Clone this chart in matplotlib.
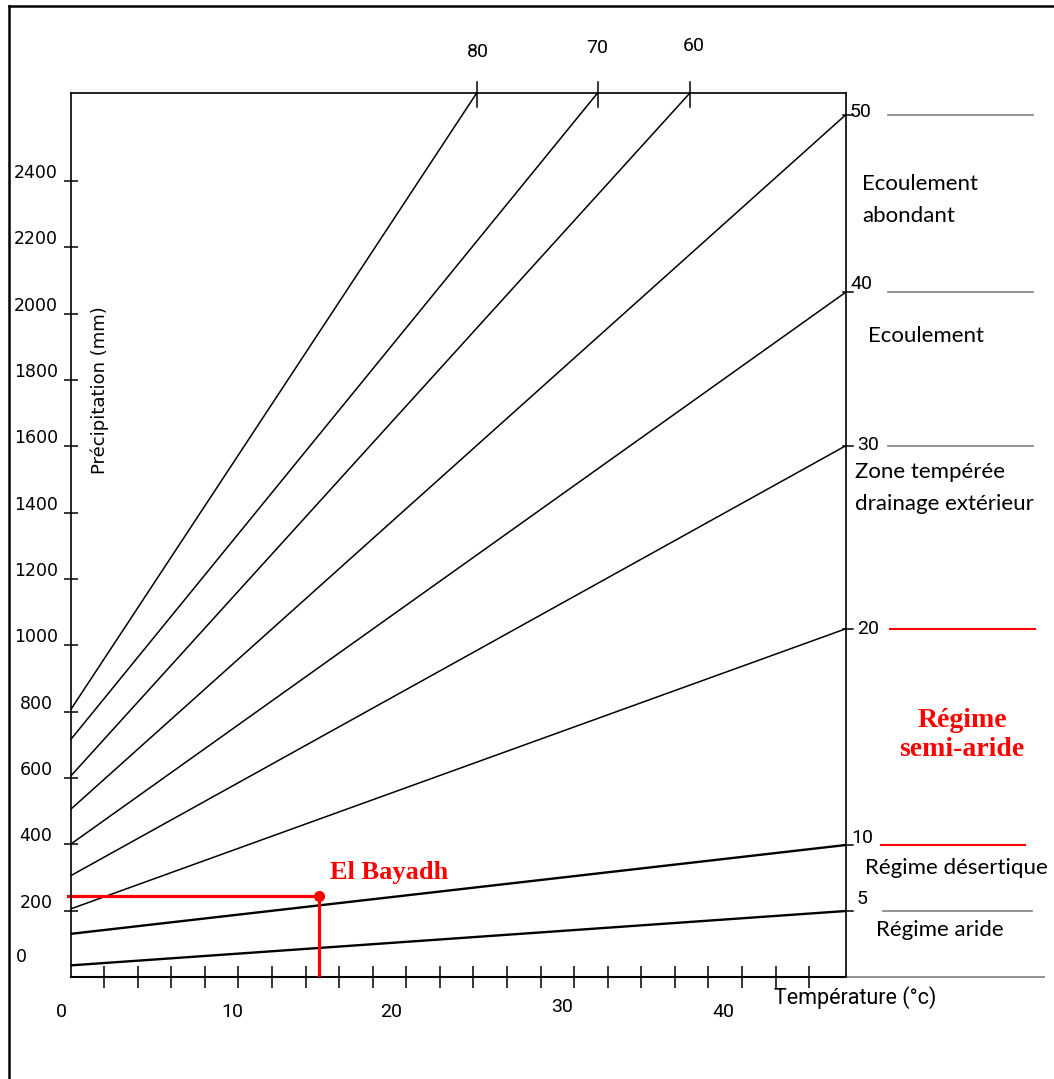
import matplotlib
matplotlib.use("Agg")
import matplotlib.pyplot as plt
from matplotlib.lines import Line2D
from matplotlib.transforms import blended_transform_factory

# -------------------------------
# Data (De Martonne abacus)
# -------------------------------
indices = [80, 70, 60, 50, 40, 30, 20, 10, 5]
# precipitation where each index line starts (T = 0)
p_start = [805, 715, 605, 505, 400, 305, 205, 130, 35]
# where each line leaves the frame (temperature, precipitation)
t_end = [24.2, 31.4, 36.9, 46.2, 46.2, 46.2, 46.2, 46.2, 46.2]
p_end = [2665, 2665, 2665, 2600, 2065, 1602, 1050, 398, 199]

station_name = "El Bayadh"
station_temp = 14.8
station_prec = 244

y_labels = [0, 200, 400, 600, 800, 1000, 1200, 1400, 1600, 1800, 2000, 2200, 2400]
x_labels = [0, 10, 20, 30, 40]

zone_index = [50, 40, 30, 20, 10, 5]
zone_texts = ["Ecoulement\nabondant", "Ecoulement", "Zone tempérée\ndrainage extérieur",
              "Régime\nsemi-aride", "Régime désertique", "Régime aride"]

# -------------------------------
# Layout
# -------------------------------
W, H = 1054, 1079
fig = plt.figure(figsize=(W / 100, H / 100), dpi=100)
ax = fig.add_axes([70.5 / W, 1 - 977 / H, (846 - 70.5) / W, (977 - 93) / H])
ax.set_xlim(0, 46.2)
ax.set_ylim(0, 2665)

for s in ["left", "top", "right"]:
    ax.spines[s].set_linewidth(1.2)
ax.spines["bottom"].set_visible(False)
ax.axhline(0, xmin=0, xmax=1, color="black", lw=1.5, clip_on=False)
ax.axhline(0, xmin=1, xmax=(1044 - 70.5) / (846 - 70.5), color="#888888", lw=1.3, clip_on=False)

ax.set_xticks(list(range(2, 45, 2)))
ax.set_yticks(y_labels[1:])
ax.tick_params(axis="x", direction="inout", length=16, width=1.1, labelbottom=False)
ax.tick_params(axis="y", direction="inout", length=10, width=1.1, labelleft=False)

# y labels (sit a little above their ticks)
for v in y_labels:
    if v == 0:
        off = (21 - 70.5, 20)
    else:
        off = (36 - 70.5, 8)
    ax.annotate(str(v), xy=(0, v), xytext=off, textcoords="offset pixels",
                ha="center", va="center", fontsize=12.5, family="DejaVu Sans",
                annotation_clip=False)

# x labels, hand placed in the original
narrow = ["Roboto", "DejaVu Sans"]
calib = ["Lato", "DejaVu Sans"]
x_off = [(-9.5, -35), (-6, -35), (-15, -35), (-12, -30), (-18, -35)]
for v, off in zip(x_labels, x_off):
    ax.annotate(str(v), xy=(v, 0), xytext=off, textcoords="offset pixels",
                ha="center", va="center", fontsize=14, family=narrow,
                annotation_clip=False)

fig.text(774 / W, 1 - 998 / H, "Température (°c)", ha="left", va="center",
         fontsize=15.5, family=narrow)
fig.text(100 / W, 1 - 390 / H, "Précipitation (mm)", rotation=90, ha="center",
         va="center", fontsize=13, family="DejaVu Sans")

# -------------------------------
# Index lines
# -------------------------------
for i, idx in enumerate(indices):
    lw = 1.7 if idx <= 10 else 1.1
    ax.plot([0, t_end[i]], [p_start[i], p_end[i]], color="black", lw=lw,
            solid_capstyle="butt")
    if p_end[i] >= 2665:
        # tick on the top frame
        ax.plot([t_end[i], t_end[i]], [2665 - 42, 2665 + 33], color="black",
                lw=1.1, clip_on=False)
    else:
        ax.plot([t_end[i] - 0.2, t_end[i] + 0.4], [p_end[i], p_end[i]],
                color="black", lw=1.1, clip_on=False)

top_off = {80: (1, 41), 70: (0, 45), 60: (4, 47)}
for i, idx in enumerate(indices):
    if idx in top_off:
        ax.annotate(str(idx), xy=(t_end[i], 2665), xytext=top_off[idx],
                    textcoords="offset pixels", ha="center", va="center",
                    fontsize=14, family=narrow, annotation_clip=False)

label_off = {50: (4, 3), 40: (4, 8), 30: (11, 1), 20: (11, 0), 10: (5, 7), 5: (11, 12)}
for i, idx in enumerate(indices):
    if idx in label_off:
        ax.annotate(str(idx), xy=(t_end[i], p_end[i]), xytext=label_off[idx],
                    textcoords="offset pixels", ha="left", va="center",
                    fontsize=14, family=narrow, annotation_clip=False)

# -------------------------------
# Zones on the right
# -------------------------------
trans = blended_transform_factory(fig.transFigure, ax.transData)
zone_x = [(888, 1033), (888, 1033), (888, 1033), (890, 1035), (881, 1025), (883, 1032)]
zone_col = ["#808080", "#808080", "#808080", "red", "red", "#808080"]
for idx, (x0, x1), c in zip(zone_index, zone_x, zone_col):
    p = p_end[indices.index(idx)]
    lw = 1.5 if c == "red" else 1.2
    ax.plot([x0 / W, x1 / W], [p, p], color=c, lw=lw, transform=trans, clip_on=False)

zone_pos = [(862, 200), (868, 336), (855, 488), (962, 735), (865, 868), (876, 930)]
for txt, (x, y) in zip(zone_texts, zone_pos):
    if "semi" in txt:
        fig.text(x / W, 1 - y / H, txt, ha="center", va="center", color="red",
                 fontsize=20, fontweight="bold", family="Liberation Serif",
                 linespacing=1.25)
    else:
        fig.text(x / W, 1 - y / H, txt, ha="left", va="center", fontsize=16,
                 family=calib, linespacing=1.75)

# -------------------------------
# Station
# -------------------------------
ax.plot([-0.15, station_temp], [station_prec, station_prec], color="red", lw=2.3,
        clip_on=False)
ax.plot([station_temp, station_temp], [0, station_prec], color="red", lw=2.3)
ax.plot(station_temp, station_prec, "o", color="red", markersize=7)
ax.annotate(station_name, xy=(station_temp, station_prec), xytext=(11, 24),
            textcoords="offset pixels", ha="left", va="center", color="red",
            fontsize=19, fontweight="bold", family="Liberation Serif")

# outer frame (left and top only)
fig.add_artist(Line2D([9 / W, 9 / W], [0, 1 - 6 / H], color="black", lw=1.8))
fig.add_artist(Line2D([9 / W, 1], [1 - 6 / H, 1 - 6 / H], color="black", lw=1.8))

fig.savefig("out.png", dpi=100)
